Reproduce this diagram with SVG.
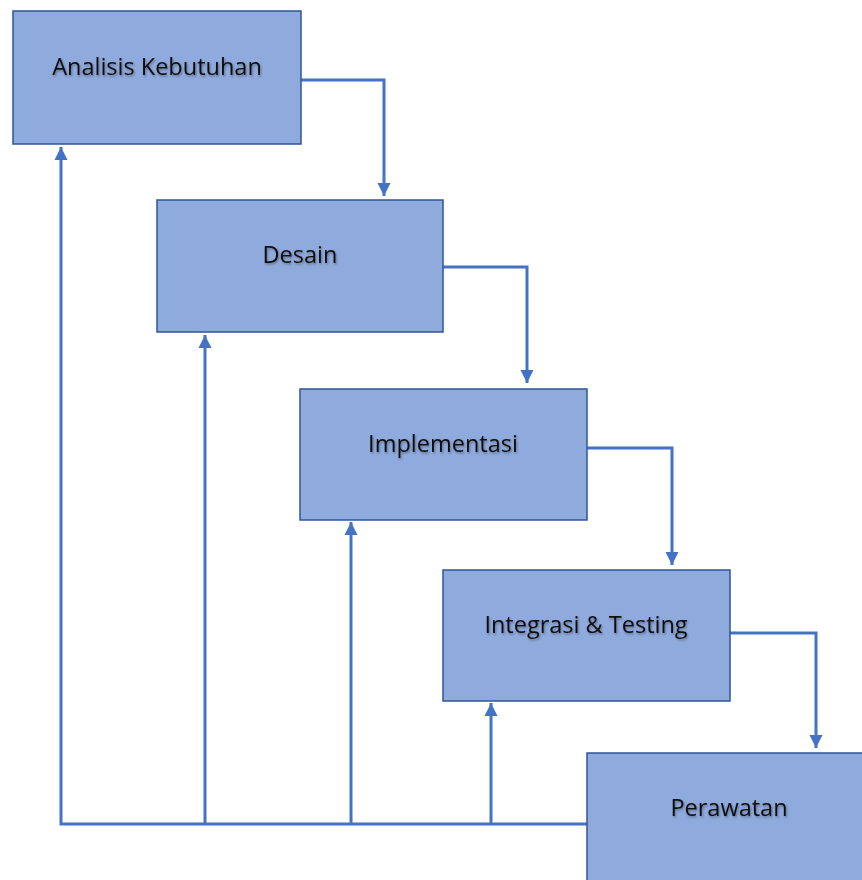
<svg xmlns="http://www.w3.org/2000/svg" width="862" height="880" viewBox="0 0 862 880">
  <style>
    .box { fill: #8FAADC; stroke: #2F5597; stroke-width: 1.5; }
    .lbl { font-family: "Open Sans", "Noto Sans", "Liberation Sans", sans-serif; font-size: 23.5px; fill: #111111; text-anchor: middle; filter: url(#sh); }
    .con { fill: none; stroke: #4472C4; stroke-width: 3; stroke-linejoin: miter; }
  </style>
  <defs>
    <filter id="sh" x="-10%" y="-30%" width="120%" height="160%">
      <feDropShadow dx="1" dy="1.5" stdDeviation="1" flood-color="#000000" flood-opacity="0.35"/>
    </filter>
    <marker id="ah" viewBox="0 0 10 10" refX="10" refY="5" markerWidth="4.4" markerHeight="4.4" orient="auto" markerUnits="strokeWidth">
      <path d="M0,0 L10,5 L0,10 z" fill="#4472C4"/>
    </marker>
  </defs>
  <rect width="862" height="880" fill="#FFFFFF"/>
  <g id="connectors">
    <path class="con" d="M301,80 H384 V196" marker-end="url(#ah)"/>
    <path class="con" d="M443,267 H527 V383" marker-end="url(#ah)"/>
    <path class="con" d="M587,448 H672 V565" marker-end="url(#ah)"/>
    <path class="con" d="M730,633 H816 V748" marker-end="url(#ah)"/>
    <path class="con" d="M587,824 H61 V147" marker-end="url(#ah)"/>
    <path class="con" d="M205,824 V335" marker-end="url(#ah)"/>
    <path class="con" d="M351,824 V522" marker-end="url(#ah)"/>
    <path class="con" d="M491,824 V703" marker-end="url(#ah)"/>
  </g>
  <g id="analisis">
    <rect class="box" x="13" y="11" width="288" height="133"/>
    <text class="lbl" x="157" y="75">Analisis Kebutuhan</text>
  </g>
  <g id="desain">
    <rect class="box" x="157" y="200" width="286" height="132"/>
    <text class="lbl" x="300" y="263">Desain</text>
  </g>
  <g id="implementasi">
    <rect class="box" x="300" y="389" width="287" height="131"/>
    <text class="lbl" x="443" y="452">Implementasi</text>
  </g>
  <g id="integrasi">
    <rect class="box" x="443" y="570" width="287" height="131"/>
    <text class="lbl" x="586" y="633">Integrasi &amp; Testing</text>
  </g>
  <g id="perawatan">
    <rect class="box" x="587" y="753" width="290" height="140"/>
    <text class="lbl" x="729" y="816">Perawatan</text>
  </g>
</svg>
